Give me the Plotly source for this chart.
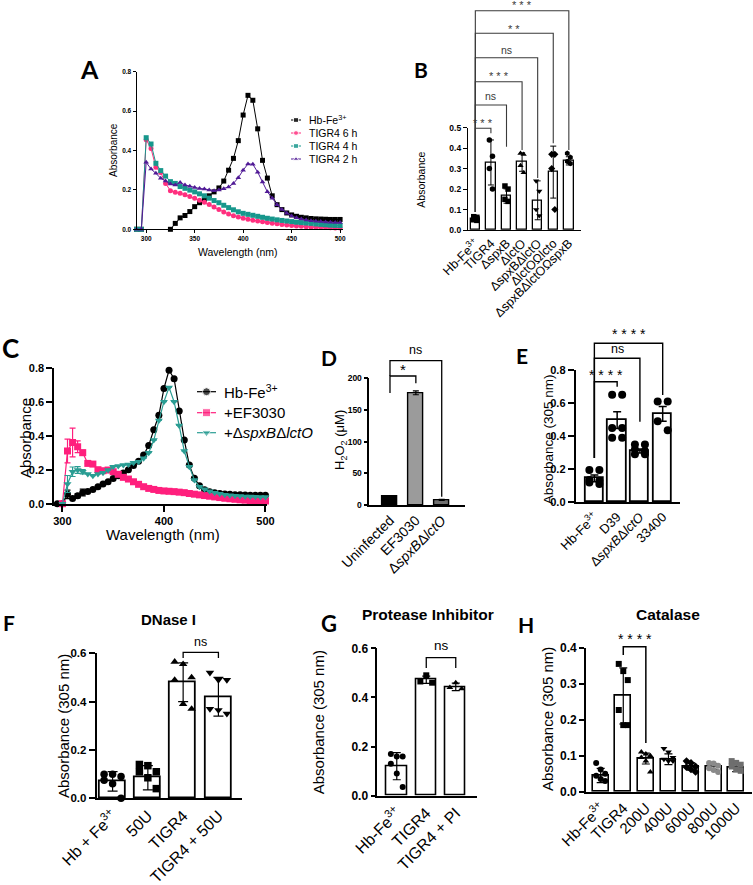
import plotly.graph_objects as go

W, H = 753, 885
FONT = "Liberation Sans"
LFONT = "Lato"

# ---------------- DATA ----------------
# Panel A : spectra (wavelength 290..500 nm, step 5)
wl_A = list(range(290, 505, 5))
A_hb = [0, 0, None, None, None, None, None,
        0.0, 0.03, 0.058, 0.07, 0.09, 0.115, 0.135, 0.152, 0.17, 0.19, 0.21,
        0.245, 0.30, 0.36, 0.45, 0.58, 0.68, 0.655, 0.51, 0.35, 0.26,
        0.17, 0.125, 0.10, 0.083, 0.073, 0.066, 0.061, 0.058, 0.055, 0.053,
        0.052, 0.051, 0.05, 0.05, 0.05]
A_6h = [0, 0, 0.455, 0.41, 0.315, 0.288, 0.233,
        0.196, 0.188, 0.183, 0.176, 0.167, 0.157, 0.147, 0.137, 0.126, 0.113,
        0.10, 0.088, 0.078, 0.069, 0.062, 0.056, 0.051, 0.046, 0.042, 0.038,
        0.034, 0.031, 0.028, 0.025, 0.022, 0.019, 0.017, 0.015, 0.013, 0.012,
        0.011, 0.01, 0.009, 0.008, 0.007, 0.006]
A_4h = [0, 0, 0.465, 0.433, 0.335, 0.298, 0.27,
        0.242, 0.233, 0.217, 0.208, 0.199, 0.19, 0.18, 0.17, 0.158, 0.146,
        0.135, 0.122, 0.11, 0.099, 0.089, 0.081, 0.076, 0.071, 0.066, 0.061,
        0.056, 0.052, 0.048, 0.045, 0.042, 0.039, 0.036, 0.034, 0.032, 0.03,
        0.027, 0.025, 0.023, 0.021, 0.02, 0.019]
A_2h = [0, 0, 0.34, 0.306, 0.284, 0.259, 0.245,
        0.23, 0.225, 0.237, 0.225, 0.218, 0.212, 0.207, 0.205, 0.2, 0.196,
        0.2, 0.206, 0.215, 0.233, 0.262, 0.3, 0.332, 0.33, 0.29, 0.24,
        0.19, 0.158, 0.125, 0.1, 0.082, 0.068, 0.058, 0.052, 0.047, 0.044,
        0.041, 0.039, 0.037, 0.036, 0.035, 0.034]
A_names = ["Hb-Fe<sup>3+</sup>", "TIGR4 6 h", "TIGR4 4 h", "TIGR4 2 h"]

# Panel B
B_cats = ["Hb-Fe<sup>3+</sup>", "TIGR4", "ΔspxB", "ΔlctO", "ΔspxBΔlctO",
          "ΔlctOΩlcto", "ΔspxBΔlctOΩspxB"]
B_mean = [0.055, 0.33, 0.166, 0.332, 0.145, 0.283, 0.338]
B_err = [0.008, 0.11, 0.035, 0.045, 0.095, 0.127, 0.02]
B_pts = [[0.065, 0.062, 0.058, 0.055, 0.05, 0.047],
         [0.44, 0.36, 0.30, 0.20],
         [0.215, 0.20, 0.15, 0.14],
         [0.375, 0.37, 0.315, 0.28],
         [0.24, 0.19, 0.10, 0.07],
         [0.37, 0.37, 0.30, 0.10],
         [0.375, 0.355, 0.335, 0.325]]
B_sig = ["* * *", "ns", "* * *", "ns", "* *", "* * *"]

# Panel C : spectra (295..500 nm)
wl_C = list(range(295, 505, 5))
C_hb = [0, 0,
        0.055, 0.031, 0.047, 0.066, 0.072, 0.084, 0.1, 0.116, 0.129,
        0.148, 0.165, 0.18, 0.2, 0.225, 0.25, 0.286, 0.343, 0.435, 0.52, 0.678,
        0.785, 0.735, 0.545, 0.375, 0.227, 0.15, 0.105, 0.082, 0.07, 0.064,
        0.06, 0.057, 0.055, 0.053, 0.052, 0.051, 0.05, 0.05, 0.05, 0.05]
C_ef = [None, 0,
        0.31, 0.36, 0.335, 0.30, 0.237, 0.233, 0.2, 0.194, 0.198,
        0.188, 0.173, 0.155, 0.145, 0.129, 0.114, 0.1, 0.09, 0.084, 0.078, 0.075,
        0.073, 0.071, 0.068, 0.065, 0.06, 0.056, 0.052, 0.048, 0.044, 0.04,
        0.036, 0.032, 0.029, 0.026, 0.023, 0.021, 0.019, 0.018, 0.017, 0.016]
C_mut = [None, 0,
         0.116, 0.188, 0.198, 0.188, 0.175, 0.165, 0.175, 0.182, 0.198,
         0.218, 0.222, 0.227, 0.231, 0.241, 0.247, 0.267, 0.3, 0.374, 0.49, 0.6,
         0.684, 0.6, 0.46, 0.31, 0.218, 0.139, 0.1, 0.085, 0.073, 0.065,
         0.058, 0.053, 0.05, 0.047, 0.045, 0.043, 0.042, 0.041, 0.04, 0.04]
C_hb_err = {305: 0.025, 315: 0.012, 320: 0.02}
C_ef_err = {305: 0.07, 310: 0.085, 315: 0.035, 320: 0.015}
C_mut_err = {305: 0.05, 310: 0.028, 315: 0.02, 320: 0.012}
C_names = ["Hb-Fe<sup>3+</sup>", "+EF3030", "+Δ<i>spxB</i>Δ<i>lctO</i>"]

# Panel D
D_cats = ["Uninfected", "EF3030", "Δ<i>spxB</i>Δ<i>lctO</i>"]
D_vals = [13, 177, 8]
D_err = [1.2, 3, 0.8]
D_sig = ["*", "ns"]

# Panel E
E_cats = ["Hb-Fe<sup>3+</sup>", "D39", "Δ<i>spxB</i>Δ<i>lctO</i>", "33400"]
E_mean = [0.145, 0.497, 0.31, 0.535]
E_err = [0.02, 0.05, 0.012, 0.045]
E_pts = [[0.195, 0.195, 0.135, 0.13, 0.12, 0.11],
         [0.65, 0.65, 0.45, 0.45, 0.39, 0.39],
         [0.35, 0.35, 0.32, 0.31, 0.29, 0.29],
         [0.61, 0.61, 0.49, 0.435]]
E_sig = ["* * * *", "ns", "* * * *"]

# Panel F
F_cats = ["Hb + Fe<sup>3+</sup>", "50U", "TIGR4", "TIGR4 + 50U"]
F_mean = [0.07, 0.085, 0.48, 0.42]
F_err = [0.04, 0.05, 0.08, 0.08]
F_pts = [[0.10, 0.10, 0.09, 0.075, 0.06, 0.0],
         [0.14, 0.135, 0.11, 0.11, 0.085, 0.04],
         [0.565, 0.555, 0.50, 0.49, 0.39, 0.37],
         [0.52, 0.49, 0.49, 0.37, 0.365, 0.35]]

# Panel G
G_cats = ["Hb-Fe<sup>3+</sup>", "TIGR4", "TIGR4 + PI"]
G_mean = [0.12, 0.472, 0.443]
G_err = [0.055, 0.015, 0.015]
G_pts = [[0.17, 0.16, 0.16, 0.13, 0.09, 0.035],
         [0.49, 0.465, 0.46],
         [0.46, 0.44, 0.435]]

# Panel H
H_cats = ["Hb-Fe<sup>3+</sup>", "TIGR4", "200U", "400U", "600U", "800U", "1000U"]
H_mean = [0.045, 0.266, 0.092, 0.09, 0.07, 0.07, 0.066]
H_err = [0.02, 0.078, 0.015, 0.015, 0.01, 0.008, 0.01]
H_pts = [[0.08, 0.062, 0.05, 0.044, 0.035, 0.03],
         [0.355, 0.335, 0.31, 0.227, 0.185, 0.185],
         [0.11, 0.105, 0.10, 0.095, 0.085, 0.055],
         [0.12, 0.11, 0.095, 0.09, 0.085, 0.085],
         [0.085, 0.08, 0.07, 0.068, 0.062, 0.055],
         [0.08, 0.078, 0.072, 0.065, 0.06, 0.055],
         [0.085, 0.08, 0.075, 0.07, 0.062, 0.058]]

# ---------------- HELPERS ----------------
def fx(px):
    return px / W


def fy(py):
    return 1 - py / H


fig = go.Figure()
layout = {}


def make_axes(n, xpx, ypx, xr, yr, lw, xtick, ytick, xtickfont, ytickfont,
              xticklen=4, yticklen=4, tickangle=0, xticks="outside"):
    sx = "" if n == 1 else str(n)
    xkey, ykey = "xaxis" + sx, "yaxis" + sx
    xa = dict(domain=[fx(xpx[0]), fx(xpx[1])], range=xr, anchor="y" + sx,
              showline=True, linecolor="black", linewidth=lw, ticks=xticks,
              ticklen=xticklen, tickwidth=lw, tickcolor="black", showgrid=False,
              zeroline=False, tickfont=xtickfont, tickangle=tickangle, automargin=False,
              fixedrange=True, tickmode="array", tickvals=xtick[0], ticktext=xtick[1])
    ya = dict(domain=[fy(ypx[1]), fy(ypx[0])], range=yr, anchor="x" + sx,
              showline=True, linecolor="black", linewidth=lw, ticks="outside",
              ticklen=yticklen, tickwidth=lw, tickcolor="black", showgrid=False,
              zeroline=False, tickfont=ytickfont, fixedrange=True, automargin=False,
              tickmode="array", tickvals=ytick[0], ticktext=ytick[1])
    layout[xkey] = xa
    layout[ykey] = ya


def bold(size):
    return dict(family=FONT, size=size, color="black", weight="bold")


def reg(size):
    return dict(family=FONT, size=size, color="black")


def ticks_num(vals, fmt):
    return [vals, [fmt.format(v) for v in vals]]


def text(x, y, s, size, angle=0, b=False, family=FONT, xanchor="center"):
    fig.add_annotation(x=fx(x), y=fy(y), xref="paper", yref="paper", text=s,
                       showarrow=False, textangle=angle, xanchor=xanchor,
                       yanchor="middle",
                       font=dict(family=family, size=size, color="black",
                                 weight="bold" if b else "normal"))


def spread(n, k, cols):
    if n == 3:
        return [0, -k, k]
    pat = [-k, k] if cols == 2 else [-k, 0, k]
    return [pat[j % len(pat)] for j in range(n)]


def bar_panel(n, means, errs, pts, symbols, pcolors, bw, lw, msize, k, cols,
              fills="white", ethick=1.2, ewidth=4):
    sx = "" if n == 1 else str(n)
    xs = list(range(len(means)))
    fig.add_trace(go.Bar(x=xs, y=means, width=bw, xaxis="x" + sx, yaxis="y" + sx,
                         marker=dict(color=fills, line=dict(color="black", width=lw)),
                         error_y=dict(type="data", array=errs, color="black",
                                      thickness=ethick, width=ewidth),
                         showlegend=False, hoverinfo="skip"))
    if pts is None:
        return
    for i, p in enumerate(pts):
        offs = spread(len(p), k, cols)
        fig.add_trace(go.Scatter(x=[i + o for o in offs], y=p, mode="markers",
                                 xaxis="x" + sx, yaxis="y" + sx, cliponaxis=False,
                                 marker=dict(symbol=symbols[i], size=msize,
                                             color=pcolors[i], line=dict(width=0)),
                                 showlegend=False, hoverinfo="skip"))


def bracket(n, i0, i1, top, lb, rb, label, label_y, size, color="black", lw=1.3):
    sx = "" if n == 1 else str(n)
    fig.add_shape(type="path", xref="x" + sx, yref="paper",
                  path=f"M {i0},{fy(lb)} L {i0},{fy(top)} L {i1},{fy(top)} L {i1},{fy(rb)}",
                  line=dict(color=color, width=lw), layer="above")
    fig.add_annotation(x=(i0 + i1) / 2, xref="x" + sx, y=fy(label_y), yref="paper",
                       text=label, showarrow=False, xanchor="center", yanchor="middle",
                       font=dict(family=FONT, size=size, color=color))


def err_list(wl, d):
    return [d.get(w) for w in wl]


# ---------------- PANEL A ----------------
make_axes(1, (136.5, 343), (71.7, 229.3), [290, 503], [0, 0.8], 1,
          ticks_num([300, 350, 400, 450, 500], "{:d}"),
          ticks_num([0, 0.2, 0.4, 0.6, 0.8], "{:.1f}"),
          bold(6.5), bold(6.5), xticklen=3, yticklen=3)
A_style = [("black", "square"), ("#ff2f7e", "circle"), ("#17978c", "square"),
           ("#501a96", "triangle-up")]
A_series = [A_hb, A_6h, A_4h, A_2h]
for ser, (col, sym) in zip(A_series, A_style):
    fig.add_trace(go.Scatter(x=wl_A, y=ser, mode="lines+markers", xaxis="x", yaxis="y",
                             line=dict(color=col, width=1),
                             marker=dict(color=col, symbol=sym, size=5),
                             cliponaxis=False, showlegend=False, hoverinfo="skip"))

# ---------------- PANEL B ----------------
make_axes(2, (468, 581), (127.7, 230), [-0.47, 6.78], [0, 0.5], 1.3,
          [list(range(len(B_cats))), B_cats],
          ticks_num([0, 0.1, 0.2, 0.3, 0.4, 0.5], "{:.1f}"),
          reg(12.5), bold(8.5), xticks="", tickangle=-45)
bar_panel(2, B_mean, B_err, B_pts,
          ["square", "circle", "square", "triangle-up", "triangle-down", "diamond", "hexagon"],
          ["black"] * 7, 0.6, 1.3, 5.5, 0.1, 2, ethick=1, ewidth=3)
B_tops = [128.3, 105, 81.7, 57.7, 33.3, 10.7]
B_rb = [133.3, 146.7, 150, 178, 143.3, 150]
B_lab = [122.5, 96.5, 76, 49.5, 29.5, 5.5]
for j in range(6):
    s = B_sig[j]
    bracket(2, 0, j + 1, B_tops[j], 212, B_rb[j], s, B_lab[j],
            11 if s != "ns" else 10.5, color="#3a3a3a", lw=1.1)

# ---------------- PANEL C ----------------
make_axes(3, (54.3, 267), (367.7, 503.7), [292, 501.5], [0, 0.8], 2,
          ticks_num([300, 400, 500], "{:d}"),
          ticks_num([0, 0.2, 0.4, 0.6, 0.8], "{:.1f}"),
          bold(11), bold(11), xticklen=6, yticklen=6)
C_style = [("black", "circle", C_hb_err), ("#ff1f7d", "square", C_ef_err),
           ("#2a9d93", "triangle-down", C_mut_err)]
for ser, (col, sym, er) in zip([C_hb, C_ef, C_mut], C_style):
    fig.add_trace(go.Scatter(x=wl_C, y=ser, mode="lines+markers", xaxis="x3", yaxis="y3",
                             line=dict(color=col, width=1.2),
                             marker=dict(color=col, symbol=sym, size=7),
                             error_y=dict(type="data", array=err_list(wl_C, er),
                                          color=col, thickness=1.2, width=3),
                             cliponaxis=False, showlegend=False, hoverinfo="skip"))

# ---------------- PANEL D ----------------
make_axes(4, (369.3, 465), (378.3, 505), [-0.8, 2.9], [0, 200], 1.5,
          [list(range(3)), D_cats],
          ticks_num([0, 50, 100, 150, 200], "{:d}"),
          reg(14), bold(8.5), xticks="", tickangle=-45)
bar_panel(4, D_vals, D_err, None, None, None, 0.6, 1.4, 0, 0, 2,
          fills=["black", "#9b9b9b", "#6f6f6f"], ethick=1.2, ewidth=3)
bracket(4, 0, 1, 376, 393, 383.3, D_sig[0], 370, 15)
bracket(4, 0, 2, 360.7, 376, 496.7, D_sig[1], 350, 12.5)

# ---------------- PANEL E ----------------
make_axes(5, (575.7, 680), (370, 502.3), [-0.82, 3.76], [0, 0.8], 2,
          [list(range(4)), E_cats],
          ticks_num([0, 0.2, 0.4, 0.6, 0.8], "{:.1f}"),
          reg(13), bold(11), xticks="", yticklen=6, tickangle=-45)
bar_panel(5, E_mean, E_err, E_pts, ["circle"] * 4, ["black"] * 4, 0.8, 1.8, 8,
          0.22, 2, ethick=1.5, ewidth=4)
bracket(5, 0, 1, 381.7, 458, 386.7, E_sig[0], 375, 14, lw=1.4)
bracket(5, 0, 2, 358.3, 458, 421.7, E_sig[1], 348.5, 12.5, lw=1.4)
bracket(5, 0, 3, 343.3, 458, 395, E_sig[2], 334, 14, lw=1.4)

# ---------------- PANEL F ----------------
make_axes(6, (96.7, 241.7), (653.3, 798.3), [-0.45, 3.66], [0, 0.6], 2,
          [list(range(4)), F_cats],
          ticks_num([0, 0.2, 0.4, 0.6], "{:.1f}"),
          reg(16), bold(11.5), xticks="", yticklen=6, tickangle=-45)
bar_panel(6, F_mean, F_err, F_pts, ["circle", "square", "triangle-up", "triangle-down"],
          ["black"] * 4, 0.74, 1.8, 7.5, 0.24, 3, ethick=1.2, ewidth=5)
bracket(6, 2, 3, 652.3, 658, 658, "ns", 642, 12.5)

# ---------------- PANEL G ----------------
make_axes(7, (377.3, 476.7), (648.3, 795.7), [-0.66, 2.71], [0, 0.6], 1.6,
          [list(range(3)), G_cats],
          ticks_num([0, 0.2, 0.4, 0.6], "{:.1f}"),
          reg(16), bold(12), xticks="", yticklen=5, tickangle=-45)
bar_panel(7, G_mean, G_err, G_pts, ["circle", "square", "triangle-up"],
          ["black"] * 3, 0.68, 1.6, 6, 0.2, 3, ethick=1.2, ewidth=4)
bracket(7, 1, 2, 657.7, 668, 668, "ns", 645.7, 13.5)

# ---------------- PANEL H ----------------
make_axes(8, (586, 752), (647.7, 791.7), [-0.65, 6.7], [0, 0.4], 1.6,
          [list(range(7)), H_cats],
          ticks_num([0, 0.1, 0.2, 0.3, 0.4], "{:.1f}"),
          reg(15), bold(12), xticks="", yticklen=5, tickangle=-45)
bar_panel(8, H_mean, H_err, H_pts,
          ["circle", "square", "triangle-up", "triangle-down", "diamond", "circle", "square"],
          ["black", "black", "black", "black", "black", "#8a8a8a", "#6e6e6e"],
          0.7, 1.6, 6, 0.2, 3, ethick=1.2, ewidth=4)
bracket(8, 1, 2, 646.7, 655, 743, "* * * *", 639, 14, lw=1.5)

# ---------------- overlay axis for legends (pixel space) ----------------
layout["xaxis9"] = dict(domain=[0, 1], range=[0, W], visible=False, fixedrange=True,
                        anchor="y9", automargin=False)
layout["yaxis9"] = dict(domain=[0, 1], range=[H, 0], visible=False, fixedrange=True,
                        anchor="x9", automargin=False)


def legend_item(x0, x1, y, col, sym, msize, lw, label, size):
    xm = (x0 + x1) / 2
    fig.add_trace(go.Scatter(x=[x0, xm, x1], y=[y, y, y], mode="lines+markers",
                             xaxis="x9", yaxis="y9", line=dict(color=col, width=lw),
                             marker=dict(color=col, symbol=sym, size=[0, msize, 0]),
                             showlegend=False, hoverinfo="skip", cliponaxis=False))
    text(x1 + 6, y, label, size, xanchor="left")


for j, (col, sym) in enumerate(A_style):
    legend_item(291, 301, [120, 133, 146, 159][j], col, sym, 5, 1, A_names[j], 10.5)
for j, (col, sym, _) in enumerate(C_style):
    legend_item(197, 216, [391.7, 412.7, 432.7][j], col, sym, 8, 1.2, C_names[j], 15)

# ---------------- texts ----------------
# axis titles
text(113, 150, "Absorbance", 10, angle=-90)
text(238, 252, "Wavelength (nm)", 10.5)
text(420.7, 180, "Absorbance", 10.5, angle=-90)
text(25, 438, "Absorbance", 15, angle=-90)
text(163, 534, "Wavelength (nm)", 15)
text(340, 440, "H<sub>2</sub>O<sub>2</sub> (μM)", 13, angle=-90)
text(548.3, 439, "Absorbance (305 nm)", 13.5, angle=-90)
text(63, 726, "Absorbance (305 nm)", 15, angle=-90)
text(318.3, 722, "Absorbance (305 nm)", 15, angle=-90)
text(547, 719, "Absorbance (305 nm)", 15, angle=-90)
# panel titles
text(168, 619, "DNase I", 15, b=True)
text(428, 614, "Protease Inhibitor", 15.5, b=True)
text(668, 614, "Catalase", 15.5, b=True)
# panel letters
for L, x, y, s in [("A", 89, 69, 25), ("B", 421, 69, 21), ("C", 10, 348, 26),
                   ("D", 329, 357.5, 21), ("E", 521.5, 355.5, 21), ("F", 9, 622.5, 21),
                   ("G", 329, 623, 22), ("H", 526, 624.5, 21)]:
    text(x, y, L, s, b=True, family=LFONT)

fig.update_layout(template="none", width=W, height=H, autosize=False,
                  margin=dict(l=0, r=0, t=0, b=0, pad=0),
                  paper_bgcolor="white", plot_bgcolor="rgba(0,0,0,0)", showlegend=False,
                  bargap=0, **layout)

fig.write_html("out.html", config={"displayModeBar": False},
               post_script="document.body.style.margin='0px';"
                           "document.body.style.padding='0px';"
                           "document.body.style.overflow='hidden';")
